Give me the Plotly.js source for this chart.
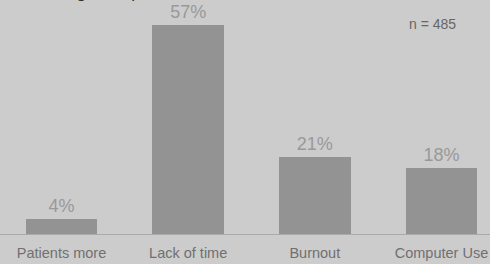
<!DOCTYPE html>
<html>
<head>
<meta charset="utf-8">
<script src="https://cdn.plot.ly/plotly-3.0.1.min.js"></script>
<style>html,body{margin:0;padding:0;background:#cccccc;}#chart{width:490px;height:264px;}</style>
</head>
<body>
<div id="chart"></div>
<script>
const categories = ["Patients more<br>complex", "Lack of time", "Burnout", "Computer Use"];
const values = [4, 57, 21, 18];
const valueLabels = ["4%", "57%", "21%", "18%"];
const titleText = "Largest impact on clinician behavior";
const noteText = "n = 485";

const FONT = "Liberation Sans, Arial, sans-serif";
const trace = {
  type: "bar",
  x: [0, 1, 2, 3],
  y: values,
  width: 0.568,
  marker: {color: "#939393"},
  text: valueLabels,
  textposition: "outside",
  textfont: {family: FONT, size: 18, color: "#999999"},
  cliponaxis: false,
  hoverinfo: "none"
};
const layout = {
  width: 490, height: 264,
  margin: {l: 0, r: 0, t: 20, b: 30, pad: 0},
  paper_bgcolor: "#cccccc",
  plot_bgcolor: "#cccccc",
  showlegend: false,
  bargap: 0,
  xaxis: {
    range: [-0.4855, 3.383],
    tickmode: "array", tickvals: [0, 1, 2, 3], ticktext: categories,
    showgrid: false, zeroline: false,
    showline: true, linecolor: "#aaaaaa", linewidth: 1,
    ticks: "", fixedrange: true, ticklabelstandoff: 6,
    tickfont: {family: FONT, size: 14.5, color: "#707070"}
  },
  yaxis: {
    range: [0, 58.23],
    visible: false, showgrid: false, zeroline: false, fixedrange: true
  },
  annotations: [
    {text: noteText, xref: "paper", yref: "paper", x: 432/490, y: 1 - 4/214,
     xanchor: "center", yanchor: "middle", showarrow: false,
     font: {family: FONT, size: 14, color: "#666666"}},
    {text: titleText, xref: "paper", yref: "paper", x: 50/490, y: 1 + 16.5/214,
     xanchor: "left", yanchor: "bottom", showarrow: false,
     font: {family: FONT, size: 17, color: "#333333"}}
  ]
};
Plotly.newPlot("chart", [trace], layout, {displayModeBar: false, staticPlot: true});
</script>
</body>
</html>
